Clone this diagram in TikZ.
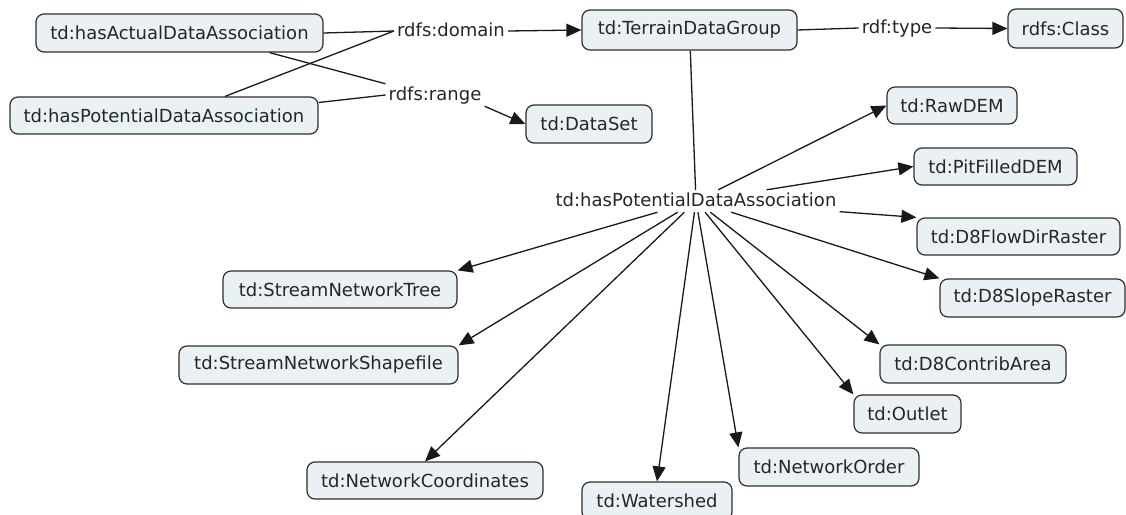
\documentclass[tikz,border=0pt]{standalone}
\usepackage{fontspec}
\setmainfont{DejaVu Sans}
\usetikzlibrary{arrows.meta}
\definecolor{boxfill}{HTML}{EAF1F4}
\definecolor{boxline}{HTML}{2E2E2E}
\begin{document}
\begin{tikzpicture}[x=1pt,y=-1pt,
  concept/.style={draw=boxline, line width=1.2pt, fill=boxfill, rounded corners=8pt,
    minimum height=38pt, inner xsep=4pt, inner ysep=0pt,
    font=\fontsize{18}{21}\selectfont, text=black!85},
  linkl/.style={inner xsep=3pt, inner ysep=3pt, text height=13pt, text depth=3pt,
    font=\fontsize{18}{21}\selectfont, text=black!85},
  conn/.style={line width=1.3pt, draw=black!90},
  arr/.style={conn, -{Triangle[length=15pt,width=13pt]}},
]
\useasboundingbox (0,0) rectangle (1126,514);
\fill[white] (0,0) rectangle (1126,514);

% concepts
\node[concept, minimum width=287pt] (hact) at (179.5,33) {td:hasActualDataAssociation};
\node[concept, minimum width=308pt, minimum height=37pt] (hpot) at (164,115.5) {td:hasPotentialDataAssociation};
\node[concept, minimum width=215pt, minimum height=40pt] (tdg) at (689.5,30) {td:TerrainDataGroup};
\node[concept, minimum width=115pt, minimum height=39pt] (cls) at (1065.5,28.5) {rdfs:Class};
\node[concept, minimum width=126pt] (ds) at (589,124) {td:DataSet};
\node[concept, minimum width=130pt, minimum height=37pt] (raw) at (952,105.5) {td:RawDEM};
\node[concept, minimum width=163pt, minimum height=37pt] (pit) at (995.5,166.5) {td:PitFilledDEM};
\node[concept, minimum width=203pt, minimum height=37pt] (flow) at (1018.5,236.5) {td:D8FlowDirRaster};
\node[concept, minimum width=185pt] (slope) at (1032.5,298) {td:D8SlopeRaster};
\node[concept, minimum width=186pt] (contrib) at (973,364) {td:D8ContribArea};
\node[concept, minimum width=107pt] (outlet) at (907.5,414) {td:Outlet};
\node[concept, minimum width=180pt] (order) at (829,467) {td:NetworkOrder};
\node[concept, minimum width=150pt] (shed) at (657,501) {td:Watershed};
\node[concept, minimum width=236pt, minimum height=37pt] (coord) at (425,480.5) {td:NetworkCoordinates};
\node[concept, minimum width=279pt] (shape) at (318.5,365) {td:StreamNetworkShapefile};
\node[concept, minimum width=234pt, minimum height=37pt] (tree) at (340,289.5) {td:StreamNetworkTree};

% linking phrases
\node[linkl] (dom) at (451,31) {rdfs:domain};
\node[linkl] (rng) at (435,95) {rdfs:range};
\node[linkl] (typ) at (897,28) {rdf:type};
\node[linkl] (hpda) at (696,201) {td:hasPotentialDataAssociation};

% connectors
\draw[conn] (hact.east) -- (dom.west);
\draw[conn] ([xshift=61pt]hpot.north) -- (dom.west);
\draw[conn] ([xshift=90pt]hact.south) -- (rng.north west);
\draw[conn] ([yshift=13pt]hpot.east) -- (rng.west);
\draw[arr] (dom.east) -- (tdg.west);
\draw[arr] (rng.south east) -- (ds.west);
\draw[conn] (tdg.east) -- (typ.west);
\draw[arr] (typ.east) -- (cls.west);
\draw[conn] (tdg) -- (hpda);

\draw[arr] (hpda) -- (raw.west);
\draw[arr] (hpda) -- (pit.west);
\draw[arr] (hpda) -- (flow.north west);
\draw[arr] (hpda) -- (slope.north west);
\draw[arr] (hpda) -- (contrib.north west);
\draw[arr] (hpda) -- (outlet.north west);
\draw[arr] (hpda) -- (order.north west);
\draw[arr] (hpda) -- (shed.north);
\draw[arr] (hpda) -- (coord.north);
\draw[arr] (hpda) -- (shape.north east);
\draw[arr] (hpda) -- (tree.north east);
\end{tikzpicture}
\end{document}
